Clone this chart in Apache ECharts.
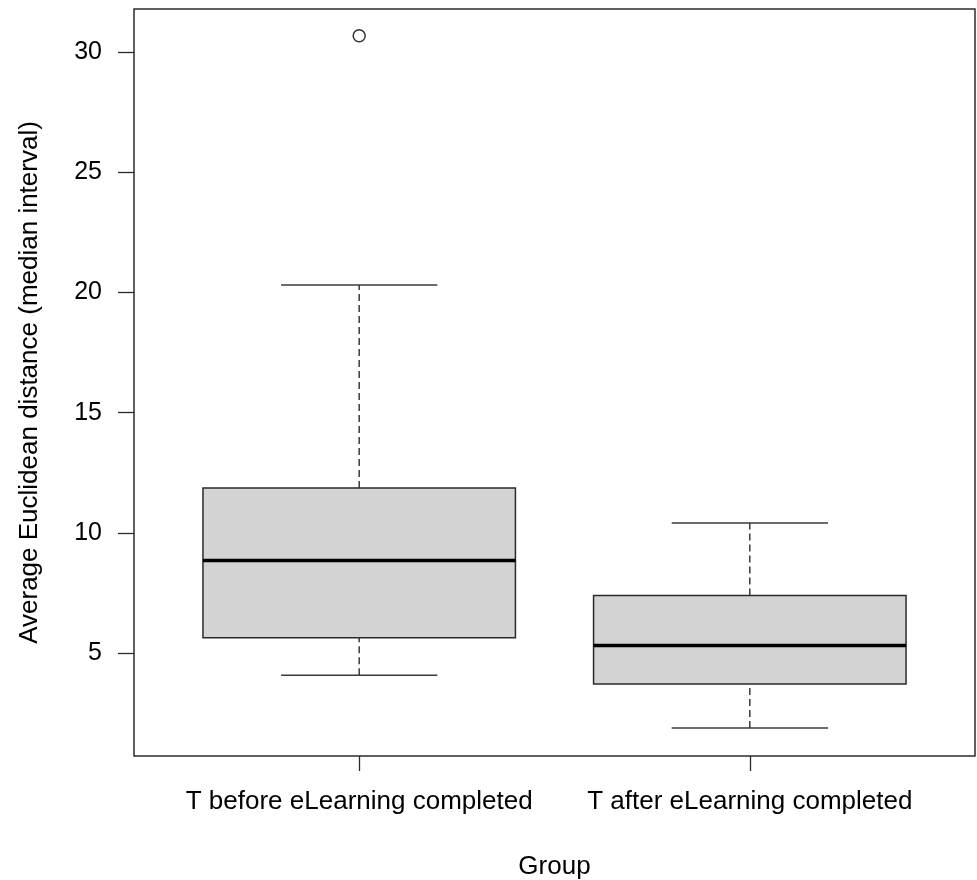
<!DOCTYPE html>
<html>
<head>
<meta charset="utf-8">
<script src="https://cdn.jsdelivr.net/npm/echarts@6/dist/echarts.min.js"></script>
<style>
  html, body { margin: 0; padding: 0; background: #fff; }
  #chart { width: 977px; height: 880px; }
</style>
</head>
<body>
<div id="chart"></div>
<script>
// Five-number summaries per group
const groups = ['T before eLearning completed', 'T after eLearning completed'];
const whiskerLow = [4.08, 1.88];
const quartile1 = [5.64, 3.71];
const median = [8.85, 5.31];
const quartile3 = [11.86, 7.39];
const whiskerHigh = [20.31, 10.41];
// Outlying observations: [group position, value]
const outlierGroup = [1];
const outlierValue = [30.68];
const yTicks = [5, 10, 15, 20, 25, 30];

const FONT = '"Liberation Sans", Arial, sans-serif';
const INK = '#000';
const FRAME = '#2b2b2b';

const boxData = groups.map((g, i) => [i + 1, whiskerLow[i], quartile1[i], median[i], quartile3[i], whiskerHigh[i]]);
const outlierData = outlierGroup.map((g, i) => [g, outlierValue[i]]);

const BOX_HALF = 0.4;
const STAPLE_HALF = 0.2;

function renderBox(params, api) {
  const x = api.value(0);
  const lo = api.value(1), b1 = api.value(2), md = api.value(3), b3 = api.value(4), hi = api.value(5);
  const pLo = api.coord([x, lo]);
  const pB1 = api.coord([x, b1]);
  const pMd = api.coord([x, md]);
  const pB3 = api.coord([x, b3]);
  const pHi = api.coord([x, hi]);
  const xl = api.coord([x - BOX_HALF, md])[0];
  const xr = api.coord([x + BOX_HALF, md])[0];
  const sl = api.coord([x - STAPLE_HALF, md])[0];
  const sr = api.coord([x + STAPLE_HALF, md])[0];
  const cx = pMd[0];
  const lineStyle = { stroke: '#3a3a3a', lineWidth: 1.5 };
  const dashStyle = { stroke: '#3a3a3a', lineWidth: 1.5, lineDash: [7, 4] };
  return {
    type: 'group',
    children: [
      { type: 'line', shape: { x1: cx, y1: pB3[1], x2: cx, y2: pHi[1] }, style: dashStyle },
      { type: 'line', shape: { x1: cx, y1: pLo[1], x2: cx, y2: pB1[1] }, style: dashStyle },
      { type: 'line', shape: { x1: sl, y1: pHi[1], x2: sr, y2: pHi[1] }, style: lineStyle },
      { type: 'line', shape: { x1: sl, y1: pLo[1], x2: sr, y2: pLo[1] }, style: lineStyle },
      { type: 'rect', shape: { x: xl, y: pB3[1], width: xr - xl, height: pB1[1] - pB3[1] },
        style: { fill: '#d3d3d3', stroke: '#2b2b2b', lineWidth: 1.5 } },
      { type: 'line', shape: { x1: xl, y1: pMd[1], x2: xr, y2: pMd[1] },
        style: { stroke: '#000', lineWidth: 3.5 } }
    ]
  };
}

const chart = echarts.init(document.getElementById('chart'), null, { renderer: 'canvas' });
chart.setOption({
  backgroundColor: '#fff',
  animation: false,
  grid: {
    left: 134, right: 2, top: 9, bottom: 124,
    outerBoundsMode: 'none',
    containLabel: false,
    show: true, borderColor: FRAME, borderWidth: 1.5, backgroundColor: 'transparent'
  },
  xAxis: {
    type: 'value',
    min: 0.4235, max: 2.5765,
    name: 'Group',
    nameLocation: 'middle',
    nameGap: 98,
    nameTextStyle: { fontFamily: FONT, fontSize: 26, color: INK },
    axisLine: { show: false },
    splitLine: { show: false },
    axisTick: { show: true, length: 15, customValues: [1, 2], lineStyle: { color: FRAME, width: 1.3 } },
    axisLabel: {
      customValues: [1, 2],
      formatter: v => groups[Math.round(v) - 1] || '',
      margin: 33,
      fontFamily: FONT, fontSize: 26, color: INK
    }
  },
  yAxis: {
    type: 'value',
    min: 0.716, max: 31.79,
    name: 'Average Euclidean distance (median interval)',
    nameLocation: 'middle',
    nameGap: 91,
    nameRotate: 90,
    nameTextStyle: { fontFamily: FONT, fontSize: 26, color: INK },
    axisLine: { show: false },
    splitLine: { show: false },
    axisTick: { show: true, length: 16, customValues: yTicks, lineStyle: { color: FRAME, width: 1.3 } },
    axisLabel: {
      customValues: yTicks,
      margin: 32,
      fontFamily: FONT, fontSize: 25, color: INK
    }
  },
  series: [
    {
      type: 'custom',
      renderItem: renderBox,
      data: boxData,
      encode: { x: 0, y: [1, 2, 3, 4, 5] },
      silent: true
    },
    {
      type: 'scatter',
      data: outlierData,
      symbol: 'circle',
      symbolSize: 12,
      itemStyle: { color: '#fff', borderColor: '#000', borderWidth: 1.5 },
      silent: true
    }
  ]
});
</script>
</body>
</html>
